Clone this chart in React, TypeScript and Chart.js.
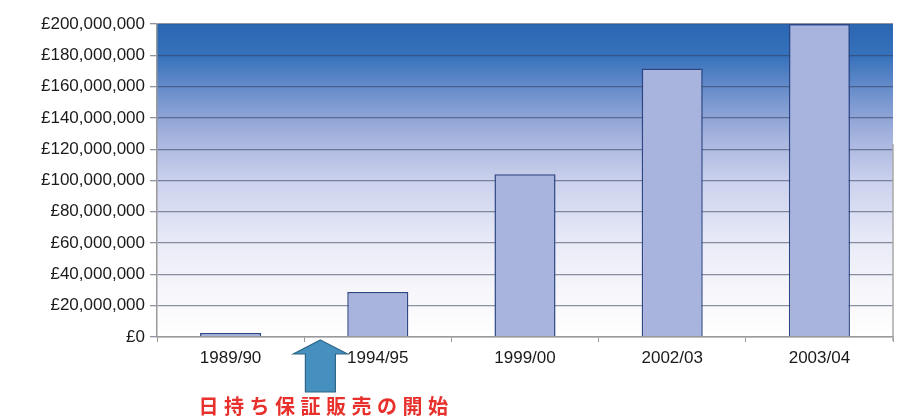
import React, { useEffect, useRef } from "react";
import { Chart, registerables } from "chart.js";

Chart.register(...registerables);

const categories = ["1989/90", "1994/95", "1999/00", "2002/03", "2003/04"];
const salesValues = [2500000, 28800000, 104000000, 171500000, 200000000];
const yMin = 0;
const yMax = 200000000;
const yStep = 20000000;
const annotationText = "日持ち保証販売の開始";
const arrowCategoryPos = 0.61;

const fontFamily = "'Liberation Sans', Arial, sans-serif";

const decorPlugin = {
  id: "decor",
  beforeDraw(chart: any) {
    const { ctx, chartArea } = chart;
    const { left, right, top, bottom } = chartArea;
    ctx.save();
    ctx.fillStyle = "#ffffff";
    ctx.fillRect(0, 0, chart.width, chart.height);
    const g = ctx.createLinearGradient(0, top, 0, bottom);
    g.addColorStop(0, "#2a67b3");
    g.addColorStop(0.1, "#3671bb");
    g.addColorStop(0.25, "#7b98d0");
    g.addColorStop(0.36, "#a5b3dd");
    g.addColorStop(0.5, "#cbd1ed");
    g.addColorStop(0.7, "#e9ebf7");
    g.addColorStop(0.85, "#f6f6fb");
    g.addColorStop(1, "#ffffff");
    ctx.fillStyle = g;
    ctx.fillRect(left, top, right - left, bottom - top);
    ctx.restore();
  },
  afterDraw(chart: any) {
    const { ctx, chartArea } = chart;
    const xs = chart.scales.x;
    ctx.save();
    // right border
    ctx.strokeStyle = "#a8a8a8";
    ctx.lineWidth = 1.5;
    ctx.beginPath();
    ctx.moveTo(chartArea.right, chartArea.top + 120);
    ctx.lineTo(chartArea.right, chartArea.bottom + 4);
    ctx.stroke();

    // arrow
    const cx = xs.getPixelForValue(arrowCategoryPos);
    const tipY = chartArea.bottom + 3;
    const headY = tipY + 14;
    const baseY = tipY + 52;
    const headHalf = 27;
    const shaftHalf = 15;
    ctx.beginPath();
    ctx.moveTo(cx, tipY);
    ctx.lineTo(cx + headHalf, headY);
    ctx.lineTo(cx + shaftHalf, headY);
    ctx.lineTo(cx + shaftHalf, baseY);
    ctx.lineTo(cx - shaftHalf, baseY);
    ctx.lineTo(cx - shaftHalf, headY);
    ctx.lineTo(cx - headHalf, headY);
    ctx.closePath();
    ctx.fillStyle = "#4690c0";
    ctx.fill();
    ctx.strokeStyle = "#2f6788";
    ctx.lineWidth = 1.2;
    ctx.stroke();

    // annotation text
    ctx.fillStyle = "#e8302c";
    ctx.font = "bold 20px 'Noto Sans CJK JP', sans-serif";
    ctx.textAlign = "left";
    ctx.textBaseline = "middle";
    (ctx as any).letterSpacing = "5.5px";
    ctx.fillText(annotationText, xs.getPixelForValue(0) - 32, 406);
    ctx.restore();
  },
};

export default function App() {
  const canvasRef = useRef<HTMLCanvasElement | null>(null);

  useEffect(() => {
    document.body.style.margin = "0";
    const canvas = canvasRef.current;
    if (!canvas) return;
    const chart = new Chart(canvas, {
      type: "bar",
      data: {
        labels: categories,
        datasets: [
          {
            label: "Sales",
            data: salesValues,
            backgroundColor: "#a9b4de",
            borderColor: "#2e4784",
            borderWidth: 1.5,
            categoryPercentage: 1,
            barPercentage: 0.415,
          },
        ],
      },
      options: {
        animation: false,
        responsive: false,
        devicePixelRatio: 1,
        layout: { padding: { top: 24, right: 31, left: 0, bottom: 0 } },
        plugins: {
          legend: { display: false },
          tooltip: { enabled: false },
        },
        scales: {
          x: {
            grid: {
              offset: true,
              drawOnChartArea: false,
              drawTicks: true,
              tickLength: 5,
              color: "#9a9a9a",
            },
            border: { display: true, color: "#9a9a9a", width: 1.5 },
            ticks: {
              color: "#1a1a1a",
              font: { family: fontFamily, size: 17 },
              padding: 6,
            },
            afterFit(scale: any) {
              scale.height = 79;
            },
          },
          y: {
            min: yMin,
            max: yMax,
            grid: {
              color: "rgba(50,60,90,0.55)",
              lineWidth: 1.3,
              tickLength: 7,
            },
            border: { display: true, color: "#9a9a9a", width: 1.5 },
            ticks: {
              stepSize: yStep,
              color: "#1a1a1a",
              font: { family: fontFamily, size: 17 },
              padding: 5,
              callback: (v: any) => "£" + Number(v).toLocaleString("en-GB"),
            },
            afterFit(scale: any) {
              scale.width = 157;
            },
          },
        },
      },
      plugins: [decorPlugin],
    });
    return () => chart.destroy();
  }, []);

  return (
    <div style={{ width: 924, height: 416, background: "#fff" }}>
      <canvas ref={canvasRef} width={924} height={416} />
    </div>
  );
}
